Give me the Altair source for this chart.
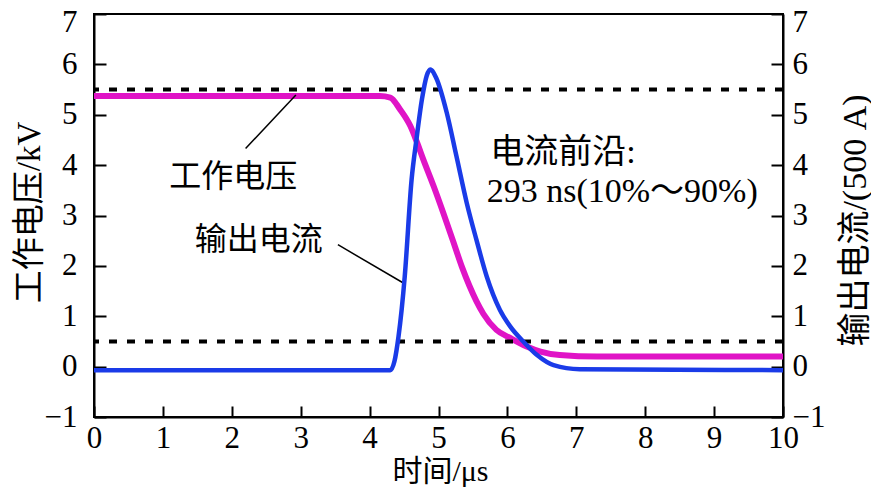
import altair as alt
import pandas as pd

# ---- data ----
voltage_t = [0, 4.15, 4.30, 4.44, 4.59, 4.68, 4.78, 4.93, 5.07, 5.21, 5.34, 5.45, 5.55, 5.65, 5.84, 6.04,
             6.28, 6.48, 6.76, 7.30, 10]
voltage_v = [5.37, 5.37, 5.34, 5.11, 4.78, 4.48, 4.11, 3.58, 3.05, 2.50, 1.98, 1.60, 1.30, 1.05, 0.73, 0.57,
             0.40, 0.30, 0.23, 0.20, 0.20]

current_t = [0, 4.30, 4.36, 4.42, 4.51, 4.61, 4.68, 4.76, 4.83, 4.88, 4.97, 5.12, 5.26, 5.41, 5.55, 5.70,
             5.89, 6.04, 6.23, 6.43, 6.67, 7.05, 10]
current_v = [-0.07, -0.07, 0.10, 0.60, 1.79, 3.72, 4.51, 5.31, 5.78, 5.90, 5.72, 5.04, 4.18, 3.25, 2.52, 1.79,
             1.13, 0.80, 0.50, 0.23, 0.03, -0.05, -0.07]

threshold_levels = [5.5, 0.5]

x_ticks = list(range(0, 11))
y_ticks = list(range(-1, 8))

label_text = ["工作电压", "输出电流"]
label_t = [2.02, 2.39]
label_v = [3.76, 2.52]

note_text = ["电流前沿:", "293 ns(10%～90%)"]
note_t = [5.75, 5.70]
note_v = [4.25, 3.46]

leader_t1 = [2.20, 3.54]
leader_v1 = [4.33, 2.42]
leader_t2 = [2.93, 4.49]
leader_v2 = [5.39, 1.66]

# ---- tables ----
volt_df = pd.DataFrame({"t": voltage_t, "v": voltage_v})
curr_df = pd.DataFrame({"t": current_t, "v": current_v})
thr_df = pd.DataFrame({"lvl": threshold_levels})
lab_df = pd.DataFrame({"t": label_t, "v": label_v, "txt": label_text})
note_df = pd.DataFrame({"t": note_t, "v": note_v, "txt": note_text})
lead_df = pd.DataFrame({"t1": leader_t1, "v1": leader_v1, "t2": leader_t2, "v2": leader_v2})

SERIF = "Liberation Serif, 'Noto Sans CJK SC'"
CJK = "'Noto Sans CJK SC'"

xscale = alt.Scale(domain=[0, 10], nice=False, zero=False)
yscale = alt.Scale(domain=[-1, 7], nice=False, zero=False)

top_label_shift = {"condition": {"test": "datum.value == 7", "value": 8}, "value": 0}

x_axis = alt.Axis(
    values=x_ticks, format="d", labelOverlap=False, labelFlush=False, title="时间/μs",
    tickSize={"expr": "-11"}, labelPadding=17,
    titleX=346, titleY=54, titleBaseline="middle", titleFontSize=30,
)
yl_axis = alt.Axis(
    values=y_ticks, format="d", labelOverlap=False, labelFlush=False, title="工作电压/kV", orient="left",
    tickSize={"expr": "-12"}, labelPadding=29, labelOffset=top_label_shift,
    titleAngle=270, titleX=-65, titleY=198, titleBaseline="middle", titleFontSize=33,
)
yr_axis = alt.Axis(
    values=y_ticks, format="d", labelOverlap=False, labelFlush=False, title="输出电流/(500 A)", orient="right",
    tickSize={"expr": "-12"}, labelPadding=21, labelOffset=top_label_shift,
    titleAngle=270, titleX=72, titleY=206, titleBaseline="middle", titleFontSize=34,
)

X = alt.X("t:Q", scale=xscale, axis=x_axis)

volt = alt.Chart(volt_df).mark_line(color="#E014C6", strokeWidth=6, interpolate="monotone").encode(
    x=X, y=alt.Y("v:Q", scale=yscale, axis=yl_axis)
)

thr = alt.Chart(thr_df).mark_rule(color="black", strokeWidth=4, strokeDash=[8, 10]).encode(
    y=alt.Y("lvl:Q", scale=yscale)
)

lead = alt.Chart(lead_df).mark_rule(color="black", strokeWidth=1.5).encode(
    x=alt.X("t1:Q", scale=xscale), x2="t2:Q",
    y=alt.Y("v1:Q", scale=yscale), y2="v2:Q",
)

labels = alt.Chart(lab_df).mark_text(
    font=CJK, fontSize=32, align="center", baseline="middle", color="black"
).encode(x=alt.X("t:Q", scale=xscale), y=alt.Y("v:Q", scale=yscale), text="txt:N")

notes = alt.Chart(note_df).mark_text(
    font=SERIF, fontSize=34, align="left", baseline="middle", color="black"
).encode(x=alt.X("t:Q", scale=xscale), y=alt.Y("v:Q", scale=yscale), text="txt:N")

left_layer = alt.layer(volt, thr, lead, labels, notes)

curr = alt.Chart(curr_df).mark_line(color="#1A3BE8", strokeWidth=4.5, interpolate="monotone").encode(
    x=X, y=alt.Y("v:Q", scale=yscale, axis=yr_axis)
)

chart = alt.layer(left_layer, curr).resolve_scale(y="independent").properties(
    width=689, height=403,
    autosize=alt.AutoSizeParams(type="none"),
    padding={"left": 86, "top": 6, "right": 88, "bottom": 70},
).configure_view(
    stroke="black", strokeWidth=2
).configure_axis(
    grid=False, domainColor="black", domainWidth=2, tickColor="black", tickWidth=2,
    labelFont=SERIF, labelFontSize=31, labelColor="black",
    titleFont=SERIF, titleColor="black", titleFontWeight="normal",
)

chart.save("out.html", embed_options={"renderer": "svg", "actions": False})
